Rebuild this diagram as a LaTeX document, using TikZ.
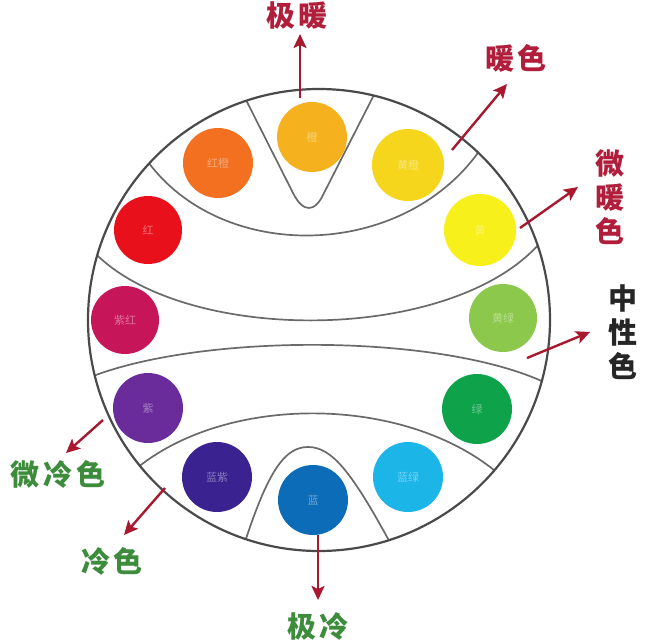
\documentclass[tikz,border=0pt]{standalone}
\usepackage{fontspec}
\newfontfamily\cjk{Noto Sans CJK SC}
\usetikzlibrary{arrows.meta}
\definecolor{cOrangeY}{HTML}{F5B21E}
\definecolor{cRedOr}{HTML}{F37021}
\definecolor{cYellOr}{HTML}{F5D61C}
\definecolor{cRed}{HTML}{E8111B}
\definecolor{cYellow}{HTML}{F7F01A}
\definecolor{cPurRed}{HTML}{C7155A}
\definecolor{cYelGr}{HTML}{8CC84B}
\definecolor{cPurple}{HTML}{6A2C9A}
\definecolor{cGreen}{HTML}{0EA34B}
\definecolor{cBluePur}{HTML}{3A2290}
\definecolor{cBlue}{HTML}{0D6CB8}
\definecolor{cBlueGr}{HTML}{1BB5E8}
\definecolor{arrred}{HTML}{A8182E}
\definecolor{warmred}{HTML}{B01E3C}
\definecolor{coolgreen}{HTML}{3C8C3C}
\definecolor{lineg}{HTML}{4A4A4A}
\definecolor{innerg}{HTML}{6A6A6A}
\begin{document}
\begin{tikzpicture}[x=1pt,y=-1pt,
  ball/.style={circle,inner sep=0pt,minimum size=70pt,text=white,text opacity=0.4,
    font=\cjk\fontsize{11}{11}\selectfont},
  arr/.style={draw=arrred,line width=2.4pt,-{Stealth[length=14pt,width=13pt,inset=3pt]}},
  lbl/.style={inner sep=0pt,align=center,font=\cjk\bfseries\fontsize{29}{34}\selectfont},
  warm/.style={lbl,text=warmred},
  cool/.style={lbl,text=coolgreen},
  neutral/.style={lbl,text=black!85},
  divider/.style={draw=innerg,line width=1.7pt}]
\useasboundingbox (0,0) rectangle (652,642);
\fill[white] (0,0) rectangle (652,642);
% dividing curves, clipped to the wheel
\begin{scope}
\clip (319,320) circle (231pt);
\draw[divider] (140,150) .. controls (210,264) and (400,264) .. (480,150);
\draw[divider] (92,250) .. controls (180,345) and (450,345) .. (540,243);
\draw[divider] (88,378) .. controls (200,333) and (440,333) .. (546,383);
\draw[divider] (130,474) .. controls (220,393) and (405,393) .. (500,475);
\draw[divider] (242,92) -- (293,193) .. controls (303,213) and (315,213) .. (324,193) -- (378,87);
\draw[divider] (243,548) .. controls (268,470) and (285,447) .. (308,447) .. controls (332,447) and (352,472) .. (393,548);
\end{scope}
\node[circle,draw=lineg,line width=2.2pt,minimum size=462pt,inner sep=0pt] (wheel) at (319,320) {};
% colour balls
\node[ball,fill=cOrangeY] (orange) at (312,137) {橙};
\node[ball,fill=cRedOr] (redorange) at (218,163) {红橙};
\node[ball,fill=cYellOr,minimum size=72pt] (yelloworange) at (408,165) {黄橙};
\node[ball,fill=cRed,minimum size=68pt] (red) at (148,230) {红};
\node[ball,fill=cYellow,minimum size=72pt] (yellow) at (480,230) {黄};
\node[ball,fill=cPurRed,minimum size=68pt] (purplered) at (125,320) {紫红};
\node[ball,fill=cYelGr,minimum size=68pt] (yellowgreen) at (503,318) {黄绿};
\node[ball,fill=cPurple] (purple) at (148,408) {紫};
\node[ball,fill=cGreen] (green) at (477,409) {绿};
\node[ball,fill=cBluePur] (bluepurple) at (217,477) {蓝紫};
\node[ball,fill=cBlue] (blue) at (313,500) {蓝};
\node[ball,fill=cBlueGr] (bluegreen) at (408,477) {蓝绿};
% labels
\node[warm] (jinuan) at (297,16) {极\hspace{4pt}暖};
\node[warm] (nuanse) at (516,58) {暖\hspace{4pt}色};
\node[warm] (weinuan) at (610,197) {微\\暖\\色};
\node[neutral] (zhongxing) at (623,332) {中\\性\\色};
\node[cool] (weileng) at (58,474) {微\hspace{4pt}冷\hspace{4pt}色};
\node[cool] (lengse) at (112,561) {冷\hspace{4pt}色};
\node[cool] (jileng) at (318,626) {极\hspace{4pt}冷};
% arrow ends
\coordinate (tJN) at (300,98);   \coordinate (hJN) at (300,34);
\coordinate (tNS) at (452,150);  \coordinate (hNS) at (507,84);
\coordinate (tWN) at (520,228);  \coordinate (hWN) at (578,187);
\coordinate (tZX) at (527,358);  \coordinate (hZX) at (590,332);
\coordinate (tWL) at (103,420);  \coordinate (hWL) at (66,453);
\coordinate (tLS) at (165,488);  \coordinate (hLS) at (124,535);
\coordinate (tJL) at (318,535);  \coordinate (hJL) at (318,600);
\draw[arr] (tJN) -- (hJN);
\draw[arr] (tNS) -- (hNS);
\draw[arr] (tWN) -- (hWN);
\draw[arr] (tZX) -- (hZX);
\draw[arr] (tWL) -- (hWL);
\draw[arr] (tLS) -- (hLS);
\draw[arr] (tJL) -- (hJL);
\end{tikzpicture}
\end{document}
